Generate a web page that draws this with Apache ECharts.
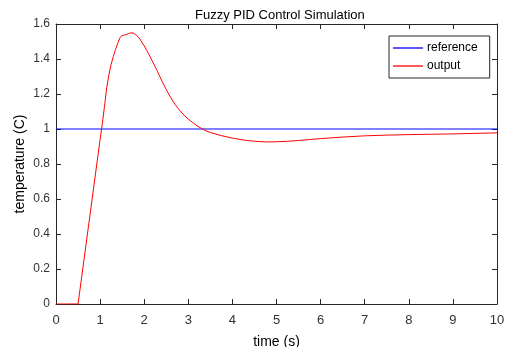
<!DOCTYPE html>
<html><head><meta charset="utf-8">
<script src="https://cdn.jsdelivr.net/npm/echarts@6/dist/echarts.min.js"></script>
<style>html,body{margin:0;padding:0;background:#fff}#c{width:507px;height:347px}</style>
</head><body><div id="c"></div>
<script>
var titleText = 'Fuzzy PID Control Simulation';
var xTicks = [0,1,2,3,4,5,6,7,8,9,10];
var yTicks = [0,0.2,0.4,0.6,0.8,1.0,1.2,1.4,1.6];
var refTime = [0, 10];
var refValues = [1, 1];
var outTime = [0,0.5,1.0,1.05,1.1,1.15,1.2,1.25,1.3,1.35,1.4,1.45,1.5,1.55,1.6,1.65,1.7,1.75,1.8,1.85,1.9,1.95,2.0,2.1,2.2,2.3,2.4,2.5,2.6,2.7,2.8,2.9,3.0,3.1,3.2,3.3,3.4,3.5,3.75,4.0,4.25,4.5,4.75,5.0,5.25,5.5,5.75,6.0,6.5,7.0,7.5,8.0,8.5,9.0,9.5,10];
var outValues = [0,0,0.94,1.03,1.13,1.235,1.31,1.37,1.415,1.455,1.49,1.522,1.534,1.537,1.54,1.546,1.549,1.548,1.54,1.53,1.515,1.495,1.475,1.43,1.38,1.33,1.275,1.225,1.18,1.14,1.108,1.08,1.057,1.037,1.018,1.003,0.99,0.98,0.962,0.948,0.937,0.93,0.926,0.927,0.93,0.934,0.94,0.945,0.954,0.961,0.965,0.968,0.97,0.972,0.975,0.978];

function pairs(a,b){return a.map(function(v,i){return [v,b[i]];});}
var font = 'Liberation Sans, Arial, sans-serif';
var axisCol = '#262626';
var labCol = '#333333';
var chart = echarts.init(document.getElementById('c'), null, {renderer:'canvas'});
var baseX = {type:'value', min:0, max:10, interval:1,
  axisLine:{show:true, onZero:false, lineStyle:{color:axisCol, width:1}},
  axisTick:{show:true, inside:true, length:5, lineStyle:{color:axisCol}},
  splitLine:{show:false}};
var baseY = {type:'value', min:0, max:1.6, interval:0.2,
  axisLine:{show:true, onZero:false, lineStyle:{color:axisCol, width:1}},
  axisTick:{show:true, inside:true, length:5, lineStyle:{color:axisCol}},
  splitLine:{show:false}};
chart.setOption({
  animation:false,
  backgroundColor:'#fff',
  title:{text:titleText, left:190, top:4, textStyle:{fontFamily:font, fontSize:13, fontWeight:'normal', color:'#000'}},
  grid:{left:56, right:10, top:24, bottom:43, containLabel:false, outerBoundsMode:'none'},
  legend:{orient:'vertical', left:389, top:36, padding:[6,12,6,4], itemGap:6,
    borderColor:axisCol, borderWidth:1, backgroundColor:'#fff',
    icon:'rect', itemWidth:30, itemHeight:1.3,
    textStyle:{fontFamily:font, fontSize:12, color:'#000', padding:[0,0,0,-1]},
    data:['reference','output']},
  xAxis:[
    Object.assign({}, baseX, {position:'bottom', name:'time (s)', nameLocation:'middle', nameGap:31, nameMoveOverlap:false,
      nameTextStyle:{fontFamily:font, fontSize:14, color:'#000'},
      axisLabel:{fontFamily:font, fontSize:13, color:labCol, margin:10, formatter:function(v){return String(v);}}}),
    Object.assign({}, baseX, {position:'top', axisLabel:{show:false}})
  ],
  yAxis:[
    Object.assign({}, baseY, {position:'left', name:'temperature (C)', nameLocation:'middle', nameGap:29, nameMoveOverlap:false,
      nameTextStyle:{fontFamily:font, fontSize:14, color:'#000'},
      axisLabel:{fontFamily:font, fontSize:12, color:labCol, margin:6, formatter:function(v){return String(Math.round(v*10)/10);}}}),
    Object.assign({}, baseY, {position:'right', axisLabel:{show:false}})
  ],
  series:[
    {name:'reference', type:'line', xAxisIndex:0, yAxisIndex:0, data:pairs(refTime, refValues), showSymbol:false, symbol:'none', lineStyle:{color:'#0000ff', width:1}, itemStyle:{color:'#0000ff'}},
    {name:'output', type:'line', xAxisIndex:0, yAxisIndex:0, data:pairs(outTime, outValues), showSymbol:false, symbol:'none', smooth:false, lineStyle:{color:'#ff0000', width:1}, itemStyle:{color:'#ff0000'}}
  ]
});
</script>
</body></html>
